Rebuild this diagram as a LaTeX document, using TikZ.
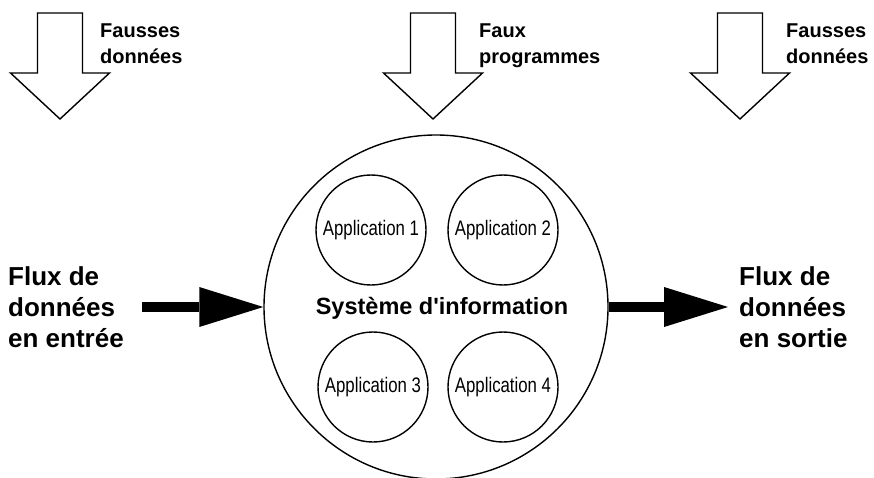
\documentclass[tikz,border=0pt]{standalone}
\usepackage{fontspec}
\setmainfont{Liberation Sans}
\newfontfamily\appfont[FakeStretch=0.8]{Liberation Sans}
\usepackage{tikz}
\usetikzlibrary{positioning}
\usetikzlibrary{arrows.meta}
\tikzstyle{system} = [
    circle,
    draw,
    line width=1.4pt,
    minimum size=344pt,
    inner sep=0pt
]
\tikzstyle{application} = [
    circle,
    draw,
    line width=1.4pt,
    minimum size=110pt,
    inner sep=0pt,
    font=\appfont\fontsize{21}{25}\selectfont
]
\tikzstyle{flow} = [-{Triangle[length=64pt, width=40pt, line width=0pt]}, line width=10pt]
\tikzstyle{smalllabel} = [align=left, inner sep=0pt, anchor=north west, font=\bfseries\fontsize{20}{26}\selectfont]
\tikzstyle{flowlabel} = [align=left, inner sep=0pt, anchor=north west, font=\bfseries\fontsize{26}{31}\selectfont]
\tikzset{
	hollow arrow/.pic={
		% shaft, then head with its tip at the bottom
		\draw[line width=1.4pt, fill=white] (-22.5,0) -- (22.5,0) -- (22.5,60) -- (49.5,60) -- (0,106) -- (-49.5,60) -- (-22.5,60) -- cycle;
	}
}

\begin{document}
\begin{tikzpicture}[x=1pt, y=-1pt]
	\useasboundingbox (0,0) rectangle (874,478);
	
	%
	% Threats from above
	\pic at (60,13) {hollow arrow};
	\pic at (433,13) {hollow arrow};
	\pic at (740,13) {hollow arrow};
	\node[smalllabel] (data1) at (100,24) {Fausses\\données};
	\node[smalllabel] (prog) at (479,24) {Faux\\programmes};
	\node[smalllabel] (data2) at (786,24) {Fausses\\données};
	
	%
	% Information system
	\node[system] (sys) at (436,307) {};
	\node[font=\bfseries\fontsize{23.5}{28}\selectfont] (syslabel) at (442,308) {Système d\textquotesingle information};
	\node[application] (app1) at (371,230) {Application 1};
	\node[application] (app2) at (503,230) {Application 2};
	\node[application] (app3) at (373,387) {Application 3};
	\node[application] (app4) at (503,387) {Application 4};
	
	%
	% Flows
	\coordinate (in) at (142,307);
	\coordinate (out) at (728,307);
	\draw[flow] (in) -- (sys.west);
	\draw[flow] (sys.east) -- (out);
	\node[flowlabel] (inlabel) at (8,266) {Flux de\\données\\en entrée};
	\node[flowlabel] (outlabel) at (739,266) {Flux de\\données\\en sortie};
	
\end{tikzpicture}
\end{document}
